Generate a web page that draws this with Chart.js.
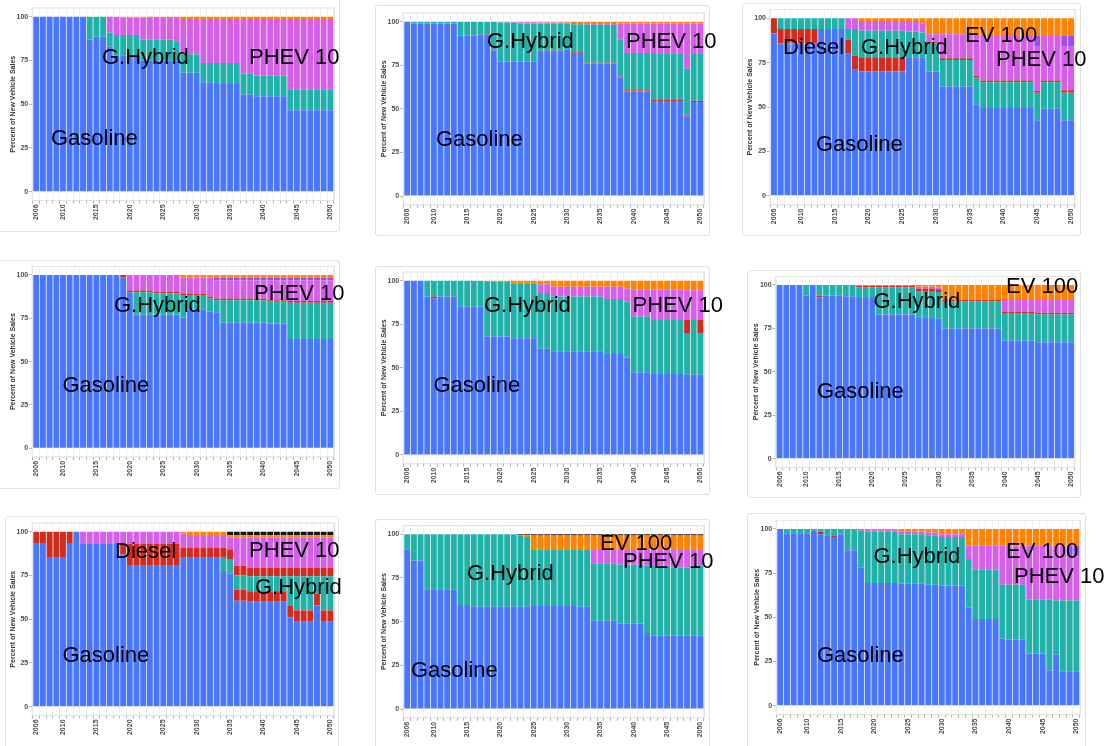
<!DOCTYPE html>
<html><head><meta charset="utf-8">
<script src="https://cdn.jsdelivr.net/npm/chart.js@4.4.1/dist/chart.umd.min.js"></script>
<style>
html,body{margin:0;padding:0;background:#fff;width:1110px;height:746px;overflow:hidden;position:relative;font-family:"Liberation Sans",Arial,sans-serif;}
.card{position:absolute;border:1px solid #e0e0e0;border-radius:3px;background:#fff;box-sizing:border-box;}
.plot{position:absolute;}
.lbl{position:absolute;font-size:22px;line-height:22px;color:#000;white-space:nowrap;font-family:"Liberation Sans",Arial,sans-serif;z-index:5;}
</style></head><body>
<script>
// ---------- categories / ticks ----------
const years = [2006,2007,2008,2009,2010, 2011,2012,2013,2014,2015, 2016,2017,2018,2019,2020, 2021,2022,2023,2024,2025, 2026,2027,2028,2029,2030, 2031,2032,2033,2034,2035, 2036,2037,2038,2039,2040, 2041,2042,2043,2044,2045, 2046,2047,2048,2049,2050];
const labeledYears = [2006,2010,2015,2020,2025,2030,2035,2040,2045,2050];
const yTickValues = [0,25,50,75,100];
const yTitle = 'Percent of New Vehicle Sales';

// ---------- panel 1 ----------
const p1Gasoline = [100,100,100,100,100, 100,100,100,87,88.5, 88.5,83,78,78,78, 78,75,75,75,75, 75,75,68,68,68, 62.5,62.5,61.5,61.5,61.5, 61.5,55.5,55.5,54.5,54.5, 54.5,54.5,54.5,46.5,46.5, 46.5,46.5,46.5,46.5,46.5];
const p1GHybrid = [0,0,0,0,0, 0,0,0,13,11.5, 11.5,8,11.5,11.5,11.5, 11.5,12,12,12,12, 12,11,10.5,10.5,10.5, 11,11,12,12,12, 12,12,12,11.8,11.8, 11.8,11.8,11.8,12,12, 12,12,12,12,12];
const p1Phev10 = [0,0,0,0,0, 0,0,0,0,0, 0,9,10.5,10.2,10, 10,12.5,12.2,12.2,12.2, 12.2,13.2,20.2,20.2,20.2, 25.2,25.2,25.2,25.2,25.2, 25.2,31.2,31.2,32.4,32.4, 32.4,32.4,32.4,40.2,40.2, 40.2,40.2,40.2,40.2,40.2];
const p1Ev100 = [0,0,0,0,0, 0,0,0,0,0, 0,0,0,0.3,0.5, 0.5,0.5,0.8,0.8,0.8, 0.8,0.8,1.3,1.3,1.3, 1.3,1.3,1.3,1.3,1.3, 1.3,1.3,1.3,1.3,1.3, 1.3,1.3,1.3,1.3,1.3, 1.3,1.3,1.3,1.3,1.3];

// ---------- panel 2 ----------
const p2Gasoline = [100,99,99,99,99, 99,99,99,92,92, 92,92,92,83.5,77, 77,77,77,77,77, 82.8,82.8,82.8,82.8,84, 82,82,76,76,76, 76,76,68,60,60, 60,60,54.5,54.5,54.5, 54.5,54.5,45.5,54,54];
const p2Diesel = [0,0,0,0,0, 0,0,0,0,0, 0,0.5,0.5,0.5,0, 0,0,0,0,0, 0.5,0.5,0.5,0.5,0, 0.5,0.5,0.4,0.4,0.4, 0.4,0.4,0.6,0.6,0.6, 0.6,0.6,0.6,0.6,0.6, 0.6,0.6,0.6,0.6,0.6];
const p2GHybrid = [0,1,1,1,1, 1,1,1,8,8, 8,7.5,7.5,16,22.5, 22.5,22.5,22,22,22, 15.7,15.7,15.7,15.7,14.8, 16,16,21.8,21.8,21.8, 21.8,21.8,21.4,21.4,21.4, 21.4,21.4,26.4,26.4,26.4, 26.4,26.4,26.9,26.9,26.9];
const p2Phev10 = [0,0,0,0,0, 0,0,0,0,0, 0,0,0,0,0.3, 0.3,0.3,0.7,0.7,0.7, 0.5,0.5,0.5,0.5,0.6, 0.8,0.8,1,1,1, 1,1,9,17,17, 17,17,17.5,17.5,17.5, 17.5,17.5,26,17.5,17.5];
const p2Ev100 = [0,0,0,0,0, 0,0,0,0,0, 0,0,0,0,0.2, 0.2,0.2,0.3,0.3,0.3, 0.5,0.5,0.5,0.5,0.6, 0.7,0.7,0.8,0.8,0.8, 0.8,0.8,1,1,1, 1,1,1,1,1, 1,1,1,1,1];

// ---------- panel 3 ----------
const p3Gasoline = [91.5,86,86,86,86, 86,86,94,94,94, 94,80,71,70,70, 70,70,70,70,70, 78,78,78,70,70, 61.5,61.5,61.5,61.5,61.5, 51.5,49.5,49.5,49.5,49.5, 49.5,49.5,49.5,49.5,42.5, 49,49,49,42.5,42.5];
const p3Diesel = [8.5,8,8,8,8, 8,8,0,0,0, 0,8,8,8,8, 8,8,8,8,8, 0,0,0,0,0, 0,0,0,0,0, 0,0,0,0,0, 0,0,0,0,0, 0,0,0,0,0];
const p3GHybrid = [0,6,6,6,6, 6,6,6,6,6, 6,6,15,15,15, 15,15,15,15,15, 14.5,14.5,14,16,16, 15,15,15,15,15, 15,14.5,14.5,14.5,14.5, 14.5,14.5,14.5,14.5,15.5, 15,15,15,15.5,15.5];
const p3DHybrid = [0,0,0,0,0, 0,0,0,0,0, 0,0,0,0,0, 0,0,0,0,0, 0,0,0,0.5,0.5, 1,1,1,1,1, 1,1,1,1,1, 1,1,1,1,1, 1,1,1,1.5,1.5];
const p3Phev10 = [0,0,0,0,0, 0,0,0,0,0, 0,6,6,5.5,5.5, 5.5,5.5,5.5,5.5,5.5, 6,6,5,4.5,4.5, 13.5,13.5,13.5,13.5,13.5, 22.5,25,25,25,25, 25,25,25,25,25, 25,25,25,24.5,24.5];
const p3Phev40 = [0,0,0,0,0, 0,0,0,0,0, 0,0,0,0,0, 0,0,0,0,0, 0,0,0,0,0, 0,0,0,0,0, 0,0,0,0,0, 0,0,0,0,6, 0,0,0,6,6];
const p3Ev100 = [0,0,0,0,0, 0,0,0,0,0, 0,0,0,1.5,1.5, 1.5,1.5,1.5,1.5,1.5, 1.5,1.5,3,9,9, 9,9,9,9,9, 10,10,10,10,10, 10,10,10,10,10, 10,10,10,10,10];

// ---------- panel 4 ----------
const p4Gasoline = [100,100,100,100,100, 100,100,100,100,100, 100,100,100,98.5,90, 77,77,77,77,77, 77,77,75.5,80,80, 80,79,78.5,72.5,72.5, 72.5,72.5,72.5,72.5,72.5, 72,72,72,63,63, 63,63,63,63,63];
const p4Diesel = [0,0,0,0,0, 0,0,0,0,0, 0,0,0,1.5,0, 0,0,0,0,0, 0,0,0,0,0, 0,0,0,0,0, 0,0,0,0,0, 0,0,0,0,0, 0,0,0,0,0];
const p4GHybrid = [0,0,0,0,0, 0,0,0,0,0, 0,0,0,0,0, 13,13,13,12.5,12.5, 12.5,12.5,12.5,8,8, 8,7.5,7,13,13, 13,13,13,13,13, 12.5,12.5,12.5,21,21, 21,21,21,21,21];
const p4DHybrid = [0,0,0,0,0, 0,0,0,0,0, 0,0,0,0,1, 1,1,1,1,1, 1,1,1,1,1, 1,1,1,1,1, 1,1,1,1,1, 1,1,1,1,1, 1,1,1,1,1];
const p4Phev10 = [0,0,0,0,0, 0,0,0,0,0, 0,0,0,0,9, 9,9,9,9.5,9.5, 9.5,9.5,9.5,9.5,9.5, 9.5,11,10.5,10.5,10.5, 10.5,10.5,10.5,10.5,10.5, 11.5,11.5,11.5,12,12, 12,12,12,12,12];
const p4Phev40 = [0,0,0,0,0, 0,0,0,0,0, 0,0,0,0,0, 0,0,0,0,0, 0,0,0,0,0, 0,0,1.5,1.5,1.5, 1.5,1.5,1.5,1.5,1.5, 1.5,1.5,1.5,1.5,1.5, 1.5,1.5,1.5,1.5,1.5];
const p4Ev100 = [0,0,0,0,0, 0,0,0,0,0, 0,0,0,0,0, 0,0,0,0,0, 0,0,1.5,1.5,1.5, 1.5,1.5,1.5,1.5,1.5, 1.5,1.5,1.5,1.5,1.5, 1.5,1.5,1.5,1.5,1.5, 1.5,1.5,1.5,1.5,1.5];

// ---------- panel 5 ----------
const p5Gasoline = [100,100,100,91,90, 91,91,91,85,85, 85,85,68,68,68, 68,67,67,67,67, 61,61,59.5,59.5,59.5, 59.5,59.5,59.5,59.5,59.5, 58,58,58,56,47.5, 47.5,47.5,46.5,46.5,46.5, 46.5,46.5,46,46,46];
const p5Diesel = [0,0,0,0,1, 0,0,0,0,0, 0,0,0,0,0, 0,0,0,0,0, 0,0,0,0,0, 0,0,0,0,0, 0,0,0,0,0, 0,0,0,0,0, 0,0,0,0,0];
const p5GHybrid = [0,0,0,9,9, 9,9,9,15,15, 15,15,31.7,31.7,31.7, 31.7,31.5,31.5,31.5,31.5, 32,32,31.5,31.5,31.5, 31.5,31.5,31.5,31.5,31.5, 31.5,31.5,31.5,32,32, 32,32,31,31,31, 31,31,23.5,31.5,23.5];
const p5DHybrid = [0,0,0,0,0, 0,0,0,0,0, 0,0,0,0,0, 0,0,0,0,0, 0,0,0,0,0, 0,0,0,0,0, 0,0,0,0,0, 0,0,0,0,0, 0,0,8,0,8];
const p5Phev10 = [0,0,0,0,0, 0,0,0,0,0, 0,0,0,0,0, 0,0,0,0,0, 5,5,5.5,5.5,5.5, 5.5,5.5,5.5,5.5,5.5, 7,7,7,7.5,15.5, 15.5,15.5,17.5,17.5,17.5, 17.5,17.5,17,17,17];
const p5Ev100 = [0,0,0,0,0, 0,0,0,0,0, 0,0,0.3,0.3,0.3, 0.3,1.5,1.5,1.5,1.5, 2,2,3.5,3.5,3.5, 3.5,3.5,3.5,3.5,3.5, 3.5,3.5,3.5,4.5,5, 5,5,5,5,5, 5,5,5.5,5.5,5.5];

// ---------- panel 6 ----------
const p6Gasoline = [100,100,100,100,94, 100,93,94,94,94, 93.5,93.5,92.5,92.5,92.5, 83,83,83,83,83, 83,81.5,81.5,81.5,80.5, 75,75,75,75,75, 75,75,75,75,68, 68,68,68,68,67, 67,67,67,67,67];
const p6Diesel = [0,0,0,0,0, 0,1,0,0,0, 0,0,0,0,0, 0,0,0,0,0, 0,0,0,0,0, 0,0,0,0,0, 0,0,0,0,0, 0,0,0,0,0, 0,0,0,0,0];
const p6GHybrid = [0,0,0,0,6, 0,6,6,6,6, 6.5,6.5,6,6,6, 15.5,15.5,15.5,15.5,15.5, 15.5,15,15,15,15.5, 15.5,15.5,15.5,15.5,15.5, 15.5,15.5,15.5,15.5,15.5, 15.5,15.5,15.5,15.5,16, 16,16,16,16,16];
const p6DHybrid = [0,0,0,0,0, 0,0,0,0,0, 0,0,1,1,1, 1,1,1,1,1, 1,1.5,1.5,1.5,1.5, 1,1,1,1,1, 1,1,1,1,1, 1,1,1,1,1, 1,1,1,1,1];
const p6Phev10 = [0,0,0,0,0, 0,0,0,0,0, 0,0,0.5,0.5,0.5, 0.5,0.5,0.5,0.5,0.5, 0.5,1,1,1,1, 0.5,0.5,0.5,0.5,0.5, 0.5,0.5,0.5,0.5,7.5, 7.5,7.5,7.5,7.5,8, 8,8,8,8,8];
const p6Ev100 = [0,0,0,0,0, 0,0,0,0,0, 0,0,0,0,0, 0,0,0,0,0, 0,1,1,1,1.5, 8,8,8,8,8, 8,8,8,8,8, 8,8,8,8,8, 8,8,8,8,8];

// ---------- panel 7 ----------
const p7Gasoline = [93.5,93.5,85.5,85.5,85.5, 93.5,100,93,93,93, 93,93,93,87,81, 81,81,81,81,81, 81,81,85.5,85.5,85.5, 85.5,85.5,85.5,77.5,76, 60.5,60.5,60,60,60, 60,60,60,51,48.5, 48.5,48.5,58,48.5,48.5];
const p7Diesel = [6.5,6.5,14.5,14.5,14.5, 6.5,0,0,0,0, 0,0,0,6,12, 12,12,12,12,12, 12,12,5.5,5.5,5.5, 5.5,5.5,5.5,0,0, 6.5,6.5,6,6,6, 6,6,6,6.5,6.5, 6.5,6.5,6.5,6.5,6.5];
const p7GHybrid = [0,0,0,0,0, 0,0,0,0,0, 0,0,0,0,0, 0,0,0,0,0, 0,0,0,0,0, 0,0,0,8,8, 8,8,8.5,8.5,8.5, 8.5,8.5,8.5,17,19.5, 19.5,19.5,10,19.5,19.5];
const p7DHybrid = [0,0,0,0,0, 0,0,0,0,0, 0,0,0,0,0, 0,0,0,0,0, 0,0,0,0,0, 0,0,0,5.5,6, 5.5,5.5,5,5,5, 5,5,5,5,5, 5,5,5,5,5];
const p7Phev10 = [0,0,0,0,0, 0,0,7,7,7, 7,7,7,7,7, 7,7,7,7,7, 7,7,8,6.5,6.5, 6.5,6.5,6.5,6.5,6.5, 16,16,17,17,17, 17,17,17,17,17, 17,17,17,17,17];
const p7Ev100 = [0,0,0,0,0, 0,0,0,0,0, 0,0,0,0,0, 0,0,0,0,0, 0,0,1,2.5,2.5, 2.5,2.5,2.5,2.5,1.5, 1.5,1.5,1.5,1.5,1.5, 1.5,1.5,1.5,1.5,1.5, 1.5,1.5,1.5,1.5,1.5];
const p7Other = [0,0,0,0,0, 0,0,0,0,0, 0,0,0,0,0, 0,0,0,0,0, 0,0,0,0,0, 0,0,0,0,2, 2,2,2,2,2, 2,2,2,2,2, 2,2,2,2,2];

// ---------- panel 8 ----------
const p8Gasoline = [91.5,85,85,68.5,68.5, 68.5,68.5,68.5,59.5,59.5, 58.5,58.5,58.5,58.5,58.5, 58.5,58.5,58.5,58.5,59, 59,59,59,59,59, 59,58.5,58.5,50.5,50.5, 50.5,50.5,49,49,49, 49,43.5,42,42,42, 42,42,42,42,42];
const p8GHybrid = [8.5,15,15,31.5,31.5, 31.5,31.5,31.5,40.5,40.5, 41.5,41.5,41.5,41.5,41.5, 41.5,41.5,40.5,40,32.5, 32.5,32.5,32.5,32.5,32.5, 32.5,32.5,32.5,33,33, 33,33,33.5,33.5,33.5, 33.5,38.5,40,40,40, 39,39,39,40,40];
const p8Phev10 = [0,0,0,0,0, 0,0,0,0,0, 0,0,0,0,0, 0,0,0,0,0, 0,0,0,0,0, 0,0,0,7.5,7.5, 7.5,7.5,8.5,8.5,8.5, 8.5,9,9,9,9, 10,10,10,9,9];
const p8Ev100 = [0,0,0,0,0, 0,0,0,0,0, 0,0,0,0,0, 0,0,0.5,1,7.8, 7.8,7.8,7.8,7.8,7.8, 7.8,8.3,8.3,8.3,8.3, 8.3,8.3,8.3,8.3,8.3, 8.3,8.3,8.3,8.3,8.3, 8.3,8.3,8.3,8.3,8.3];
const p8Other = [0,0,0,0,0, 0,0,0,0,0, 0,0,0,0,0, 0,0,0.5,0.5,0.7, 0.7,0.7,0.7,0.7,0.7, 0.7,0.7,0.7,0.7,0.7, 0.7,0.7,0.7,0.7,0.7, 0.7,0.7,0.7,0.7,0.7, 0.7,0.7,0.7,0.7,0.7];

// ---------- panel 9 ----------
const p9Gasoline = [100,97.5,97.5,97.5,97.5, 99,97,96.5,95.5,97, 88,88,78,69.5,69.5, 69.5,69.5,69.5,69,69, 69,69,68.5,68.5,68, 68,68,68,55.5,49, 49,49,49,38,37.5, 37.5,37.5,29.5,29.5,29.5, 20,29,19.5,19.5,19.5];
const p9Diesel = [0,0.3,0.3,0.3,0.3, 0,1.5,0,0.5,0.5, 0,0,0,0,0, 0,0,0,0,0, 0,0,0,0,0, 0,0,0,0,0, 0,0,0,0,0, 0,0,0,0,0, 0,0,0,0,0];
const p9GHybrid = [0,2.2,2.2,2.2,2.2, 1,1.5,3.5,4,2.5, 12,12,21,29,29, 29,29,29,28,28, 28,28,28,28,27.5, 27.5,27.5,27.5,27.5,28, 28,28,28,30.5,31, 31,31,30.5,30.5,30.5, 40,30.5,40,40,40];
const p9Phev10 = [0,0,0,0,0, 0,0,0,0,0, 0,0,1,1,1, 1,1,1,1.5,1.5, 1.5,1.5,1.5,1.5,1.5, 1.5,1.5,1.5,7.5,13.5, 13.5,13.5,13.5,22,22, 22,22,30.5,30.5,30.5, 30.5,31,31,25,25];
const p9Phev40 = [0,0,0,0,0, 0,0,0,0,0, 0,0,0,0,0, 0,0,0,0,0, 0,0,0,0,0, 0,0,0,0,0, 0,0,0,0,0, 0,0,0,0,0, 0,0,0,6,6];
const p9Ev100 = [0,0,0,0,0, 0,0,0,0,0, 0,0,0,0.5,0.5, 0.5,0.5,0.5,1.5,1.5, 1.5,1.5,2,2,3, 3,3,3,9.5,9.5, 9.5,9.5,9.5,9.5,9.5, 9.5,9.5,9.5,9.5,9.5, 9.5,9.5,9.5,9.5,9.5];

// ---------- series order & colours ----------
const stackOrder = ['Gasoline','Diesel','G.Hybrid','D.Hybrid','PHEV 10','PHEV 40','EV 100','Other'];
const seriesColors = {'Gasoline':'#4876FF','Diesel':'#D52B1E','G.Hybrid':'#20B2A8','D.Hybrid':'#D52B1E','PHEV 10':'#D55FEA','PHEV 40':'#9D4CF0','EV 100':'#FF8300','Other':'#141414'};

const panelSeries = [
  {'Gasoline':p1Gasoline,'G.Hybrid':p1GHybrid,'PHEV 10':p1Phev10,'EV 100':p1Ev100},
  {'Gasoline':p2Gasoline,'Diesel':p2Diesel,'G.Hybrid':p2GHybrid,'PHEV 10':p2Phev10,'EV 100':p2Ev100},
  {'Gasoline':p3Gasoline,'Diesel':p3Diesel,'G.Hybrid':p3GHybrid,'D.Hybrid':p3DHybrid,'PHEV 10':p3Phev10,'PHEV 40':p3Phev40,'EV 100':p3Ev100},
  {'Gasoline':p4Gasoline,'Diesel':p4Diesel,'G.Hybrid':p4GHybrid,'D.Hybrid':p4DHybrid,'PHEV 10':p4Phev10,'PHEV 40':p4Phev40,'EV 100':p4Ev100},
  {'Gasoline':p5Gasoline,'Diesel':p5Diesel,'G.Hybrid':p5GHybrid,'D.Hybrid':p5DHybrid,'PHEV 10':p5Phev10,'EV 100':p5Ev100},
  {'Gasoline':p6Gasoline,'Diesel':p6Diesel,'G.Hybrid':p6GHybrid,'D.Hybrid':p6DHybrid,'PHEV 10':p6Phev10,'EV 100':p6Ev100},
  {'Gasoline':p7Gasoline,'Diesel':p7Diesel,'G.Hybrid':p7GHybrid,'D.Hybrid':p7DHybrid,'PHEV 10':p7Phev10,'EV 100':p7Ev100,'Other':p7Other},
  {'Gasoline':p8Gasoline,'G.Hybrid':p8GHybrid,'PHEV 10':p8Phev10,'EV 100':p8Ev100,'Other':p8Other},
  {'Gasoline':p9Gasoline,'Diesel':p9Diesel,'G.Hybrid':p9GHybrid,'PHEV 10':p9Phev10,'PHEV 40':p9Phev40,'EV 100':p9Ev100}
];

// ---------- layout (pixels of value 100 / value 0 and bar extent) ----------
const plotGeom = [
  {y100:16.7, y0:191.7, barsL:33.3, barsR:333.3},
  {y100:21.7, y0:196.0, barsL:404.3, barsR:703.3},
  {y100:18.3, y0:195.7, barsL:771.0, barsR:1074.0},
  {y100:275.0, y0:448.3, barsL:33.3, barsR:333.3},
  {y100:280.7, y0:455.0, barsL:404.3, barsR:703.3},
  {y100:285.0, y0:458.7, barsL:776.7, barsR:1074.0},
  {y100:531.7, y0:706.7, barsL:33.3, barsR:333.3},
  {y100:534.3, y0:709.0, barsL:404.3, barsR:703.3},
  {y100:529.0, y0:705.7, barsL:777.3, barsR:1079.3}
];
const cardBoxes = [
  [-3,-3,340,232],[375,5,710,236],[742,3,1081,236],
  [-3,260,340,489],[375,266,710,495],[747,270,1081,498],
  [5,516,339,760],[375,519,710,760],[747,513,1086,760]
];
const annotations = [
  ['Gasoline',51,146],['G.Hybrid',102,65],['PHEV 10',249,65],
  ['G.Hybrid',487,49],['PHEV 10',626,49],['Gasoline',436,147],
  ['Diesel',783,55],['G.Hybrid',861,55],['EV 100',965,42.5],['PHEV 10',996,66.5],['Gasoline',816,152],
  ['G.Hybrid',114,312.5],['PHEV 10',254,301],['Gasoline',62.5,392.5],
  ['G.Hybrid',484,312.5],['PHEV 10',632.5,312.5],['Gasoline',433.5,392.5],
  ['EV 100',1006,294],['G.Hybrid',873.5,309],['Gasoline',817,399],
  ['Diesel',115,559],['PHEV 10',249,557.5],['G.Hybrid',255,595],['Gasoline',62.5,662.5],
  ['EV 100',600,551],['PHEV 10',623,569],['G.Hybrid',467,581],['Gasoline',411,678],
  ['G.Hybrid',873.5,564],['EV 100',1006,559],['PHEV 10',1014,584],['Gasoline',817,662.5]
];

const BAR_FRAC = 0.88, YW = 26, XH = 36;
const FONT = '"Liberation Sans", Arial, sans-serif';

cardBoxes.forEach(([l,t,r,b]) => {
  const d = document.createElement('div');
  d.className = 'card';
  d.style.left = l+'px'; d.style.top = t+'px';
  d.style.width = (r-l)+'px'; d.style.height = (b-t)+'px';
  document.body.appendChild(d);
});

const framePlugin = {
  id:'frame',
  beforeDatasetsDraw(chart){
    const {ctx, chartArea:a} = chart;
    ctx.save();
    ctx.strokeStyle = '#e2e2e2';
    ctx.lineWidth = 1.2;
    ctx.strokeRect(a.left, a.top, a.right-a.left, a.bottom-a.top);
    ctx.restore();
  }
};

panelSeries.forEach((series, i) => {
  const g = plotGeom[i];
  const u = (g.barsR - g.barsL) / (44 + BAR_FRAC);
  const L = g.barsL - (0.6 - BAR_FRAC/2)*u;
  const R = g.barsR + (0.6 - BAR_FRAC/2)*u;
  const span = g.y0 - g.y100;
  const T = g.y100 - 0.05*span, B = g.y0 + 0.05*span;
  const cl = Math.floor(L - YW), ct = Math.floor(T);
  const cw = Math.ceil(R + 3) - cl, ch = Math.ceil(B + XH) - ct;
  const padL = (L - YW) - cl, padT = T - ct;
  const padR = cw - (R - cl), padB = ch - (B - ct) - XH;

  const div = document.createElement('div');
  div.className = 'plot';
  div.style.left = cl+'px'; div.style.top = ct+'px';
  div.style.width = cw+'px'; div.style.height = ch+'px';
  const canvas = document.createElement('canvas');
  canvas.width = cw; canvas.height = ch;
  canvas.style.width = cw+'px'; canvas.style.height = ch+'px';
  div.appendChild(canvas);
  document.body.appendChild(div);

  const datasets = stackOrder.filter(k => series[k]).map(k => ({
    label: k,
    data: series[k],
    backgroundColor: seriesColors[k],
    borderWidth: 0,
    barPercentage: BAR_FRAC,
    categoryPercentage: 1,
    stack: 's'
  }));

  new Chart(canvas, {
    type: 'bar',
    data: { labels: years, datasets },
    options: {
      responsive: false,
      animation: false,
      layout: { padding: { left: padL, top: padT, right: padR, bottom: padB } },
      plugins: { legend: { display: false }, tooltip: { enabled: false } },
      scales: {
        x: {
          type: 'linear', stacked: true, min: 2005.4, max: 2050.6, offset: false,
          afterBuildTicks: s => { s.ticks = years.map(v => ({ value: v })); },
          afterFit: s => { s.height = XH; s.paddingLeft = 0; s.paddingRight = 0; },
          ticks: {
            autoSkip: false, maxRotation: 90, minRotation: 90, padding: 1,
            color: '#4d4d4d', font: { family: FONT, size: 7, weight: 'bold' },
            callback: v => labeledYears.includes(v) ? String(v) : ''
          },
          grid: { display: true, drawOnChartArea: true, color: '#ededed', lineWidth: 0.7,
                  drawTicks: true, tickLength: 3, tickColor: '#8a8a8a', tickWidth: 0.7 },
          border: { display: false }
        },
        y: {
          type: 'linear', stacked: true, min: -5, max: 105,
          afterBuildTicks: s => { s.ticks = yTickValues.map(v => ({ value: v })); },
          afterFit: s => { s.width = YW; s.paddingTop = 0; s.paddingBottom = 0; },
          ticks: { padding: 1, color: '#4d4d4d', font: { family: FONT, size: 7, weight: 'bold' } },
          grid: { drawOnChartArea: false, drawTicks: true, tickLength: 3, tickColor: '#8a8a8a', tickWidth: 0.7 },
          border: { display: false },
          title: { display: true, text: yTitle, color: '#333', font: { family: FONT, size: 7, weight: 'bold' },
                   padding: { top: 2.3, bottom: 0 } }
        }
      }
    },
    plugins: [framePlugin]
  });
});

annotations.forEach(([txt, x, base]) => {
  const d = document.createElement('div');
  d.className = 'lbl';
  d.textContent = txt;
  d.style.left = x+'px';
  d.style.top = (base - 18.6)+'px';
  document.body.appendChild(d);
});
</script>
</body></html>
